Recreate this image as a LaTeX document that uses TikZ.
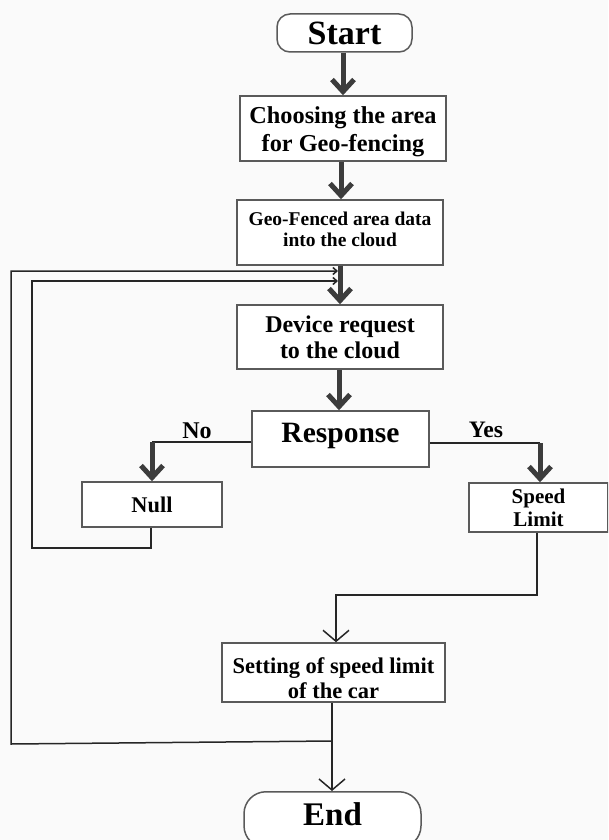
\documentclass[tikz,border=0pt]{standalone}
\usepackage{fontspec}
\setmainfont{Liberation Serif}
\usetikzlibrary{arrows.meta}
\definecolor{bgc}{HTML}{FAFAFA}
\definecolor{boxc}{HTML}{5A5A5A}
\definecolor{arrc}{HTML}{3C3C3C}
\begin{document}
\begin{tikzpicture}[x=1pt,y=-1pt,
  box/.style={draw=boxc,line width=1.5pt,fill=white,inner sep=0pt,align=center,font=\bfseries},
  term/.style={box,rounded corners=13pt},
  lbl/.style={inner sep=0pt,align=center,font=\bfseries},
  thickarr/.style={draw=arrc,line width=5pt,-{Straight Barb[length=12pt,width=22pt]}},
  thinline/.style={draw=black!85,line width=1.5pt},
  thinarr/.style={thinline,-{Straight Barb[length=11pt,width=26pt]}},
  smallarr/.style={thinline,-{Straight Barb[length=4pt,width=7pt]}}]
\clip (0,0) rectangle (608,840);
\fill[bgc] (0,0) rectangle (608,840);
% nodes
\node[term,minimum width=135pt,minimum height=38pt,font=\bfseries\fontsize{34}{36}\selectfont] (start) at (344.5,33) {Start};
\node[box,minimum width=206pt,minimum height=65pt] (b1) at (343,128.5) {};
\node[lbl,font=\bfseries\fontsize{24.3}{28}\selectfont] (b1t) at (343,132) {Choosing the area\\for Geo-fencing};
\node[box,minimum width=206pt,minimum height=65pt] (b2) at (340,232.5) {};
\node[lbl,font=\bfseries\fontsize{19.5}{21}\selectfont] (b2t) at (340,229) {Geo-Fenced area data\\into the cloud};
\node[box,minimum width=206pt,minimum height=64pt,font=\bfseries\fontsize{24}{26}\selectfont] (b3) at (340,337) {Device request\\to the cloud};
\node[box,minimum width=177pt,minimum height=56pt] (resp) at (340.5,439) {};
\node[lbl,font=\bfseries\fontsize{29.5}{32}\selectfont] (respt) at (340.5,436) {Response};
\node[box,minimum width=140pt,minimum height=45pt,font=\bfseries\fontsize{22.4}{24}\selectfont] (null) at (152,504.5) {Null};
\node[box,minimum width=139pt,minimum height=49pt,font=\bfseries\fontsize{21}{23}\selectfont] (speed) at (538.5,507.5) {Speed\\Limit};
\node[box,minimum width=223pt,minimum height=59pt] (set) at (333.5,672.5) {};
\node[lbl,font=\bfseries\fontsize{22.5}{25}\selectfont] (sett) at (333.5,678) {Setting of speed limit\\of the car};
\node[term,rounded corners=22pt,minimum width=177pt,minimum height=56pt,anchor=north] (end) at (332.5,791) {};
\node[lbl,font=\bfseries\fontsize{33}{36}\selectfont] (endt) at (332.5,814) {End};
\node[lbl,font=\bfseries\fontsize{24}{26}\selectfont] (no) at (197,431) {No};
\node[lbl,font=\bfseries\fontsize{23.6}{26}\selectfont] (yes) at (486,430) {Yes};
% coordinates
\coordinate (nc) at (152,442);
\coordinate (yc) at (540,443);
\coordinate (nl1) at (151,548);
\coordinate (nl2) at (32,548);
\coordinate (nl3) at (32,281);
\coordinate (in1) at (338,281);
\coordinate (sc1) at (537,595);
\coordinate (sc2) at (336,595);
\coordinate (jn) at (332,741);
\coordinate (ol1) at (11,744);
\coordinate (ol2) at (11,271);
\coordinate (in2) at (338,271);
% connectors
\draw[thickarr] (start.south -| 343,0) -- (b1.north -| 343,0);
\draw[thickarr] (b1.south -| 341,0) -- (b2.north -| 341,0);
\draw[thickarr] (b2.south) -- (b3.north);
\draw[thickarr] (b3.south -| 339,0) -- (resp.north -| 339,0);
\draw[thinline] (resp.west |- nc) -- (nc);
\draw[thickarr] (nc) -- (null.north -| nc);
\draw[thinline] (resp.east |- yc) -- (yc);
\draw[thickarr] (yc) -- (speed.north -| yc);
\draw[smallarr] (null.south -| nl1) -- (nl1) -- (nl2) -- (nl3) -- (in1);
\draw[thinarr] (speed.south -| sc1) -- (sc1) -- (sc2) -- (set.north -| sc2);
\draw[thinarr] (set.south -| jn) -- (end.north -| jn);
\draw[smallarr] (jn) -- (ol1) -- (ol2) -- (in2);
\end{tikzpicture}
\end{document}
